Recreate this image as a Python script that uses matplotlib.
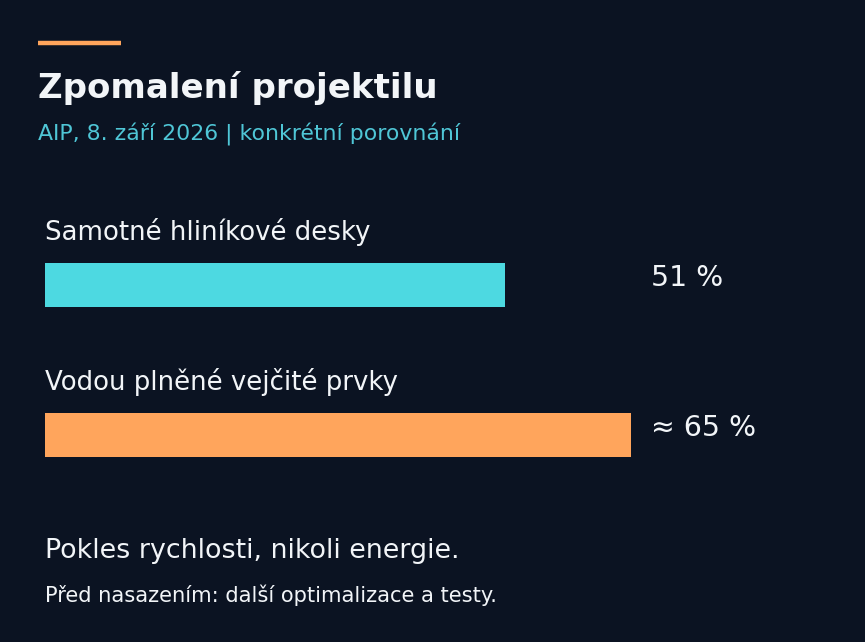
import matplotlib
matplotlib.use("Agg")
import matplotlib.pyplot as plt

# Data
categories = ["Samotné hliníkové desky", "Vodou plněné vejčité prvky"]
values = [51, 65]
value_labels = ["51 %", "≈ 65 %"]
title = "Zpomalení projektilu"
subtitle = "AIP, 8. září 2026 | konkrétní porovnání"
note_main = "Pokles rychlosti, nikoli energie."
note_sub = "Před nasazením: další optimalizace a testy."

BG = "#0b1322"
BAR_COLORS = ["#4dd9e1", "#ffa55c"]
ACCENT = "#ffa55c"
TEXT = "#f2f5f8"
SUB = "#4fc6d6"

W, H = 865, 642
PX_PER_UNIT = 9.02
LEFT_PX = 45

fig = plt.figure(figsize=(W / 100, H / 100), dpi=100, facecolor=BG)
ax = fig.add_axes([0, 0, 1, 1])
ax.set_facecolor(BG)
ax.set_xlim(-LEFT_PX / PX_PER_UNIT, (W - LEFT_PX) / PX_PER_UNIT)
ax.set_ylim(H, 0)
ax.axis("off")

# accent line and header (figure pixel coords)
fig.add_artist(plt.Line2D([38 / W, 121 / W], [1 - 43 / H, 1 - 43 / H],
                          color=ACCENT, lw=3.2, solid_capstyle="butt"))
fig.text(38 / W, 1 - 88 / H, title, color=TEXT, fontsize=24.5,
         fontweight="bold", va="center", ha="left")
fig.text(38 / W, 1 - 134.5 / H, subtitle, color=SUB, fontsize=15.8,
         va="center", ha="left")

bar_y = [285, 435]
bar_h = 44
ax.barh(bar_y, values, height=bar_h, left=0, color=BAR_COLORS)

label_x = max(values) + 20 / PX_PER_UNIT
for y, cat, lab in zip(bar_y, categories, value_labels):
    ax.text(0, y - 53, cat, color=TEXT, fontsize=18.7, va="center", ha="left")
    ax.text(label_x, y - 7, lab, color=TEXT, fontsize=20.4, va="center", ha="left")

fig.text(45 / W, 1 - 551 / H, note_main, color=TEXT, fontsize=19.4,
         va="center", ha="left")
fig.text(45 / W, 1 - 595 / H, note_sub, color=TEXT, fontsize=15.1,
         va="center", ha="left")

fig.savefig("out.png", dpi=100, facecolor=BG)
